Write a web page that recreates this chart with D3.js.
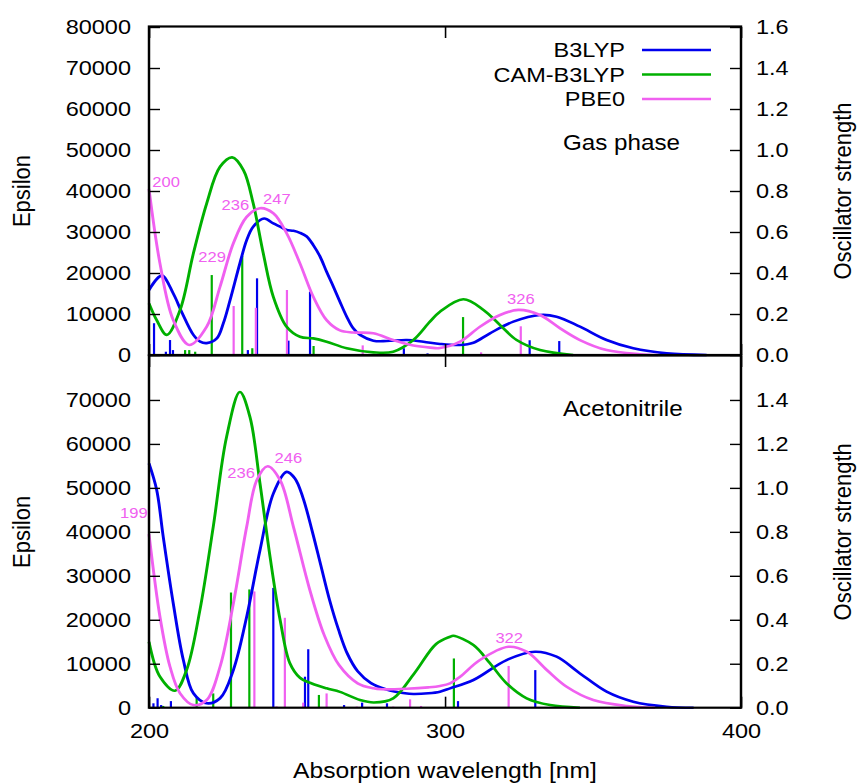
<!DOCTYPE html>
<html>
<head>
<meta charset="utf-8">
<script src="https://cdn.jsdelivr.net/npm/d3@7"></script>
<style>
  body { margin: 0; background: #fff; }
  text { font-family: "Liberation Sans", Arial, sans-serif; }
</style>
</head>
<body>
<div id="chart"></div>
<script>
// ---- data: [wavelength nm, epsilon] ----
var gasB3lyp = [[200,15850],[204.3,19350],[208.2,15000],[211,10560],[215,4900],[217.3,3250],[219.5,2900],
  [222.9,4050],[225.1,7700],[227.4,13400],[230.7,22350],[233,28000],[235.2,31300],[238.9,33300],[242,32100],
  [244.3,31300],[246.5,30500],[248.8,30300],[251,29800],[253.3,28900],[255.5,26800],[257.8,24000],[260,20300],
  [262.3,16650],[264.5,13000],[266.8,9350],[269,6500],[271.3,4900],[275.8,3500],[280.3,3400],[287.1,3650],
  [292.7,3250],[298.3,2700],[305,2440],[309.6,3000],[315.2,5300],[323.1,8130],[332.1,9750],[337.7,9350],
  [345.6,6900],[354.6,3650],[363.6,1630],[374.9,400],[388.4,0]];
var gasCam = [[200,12600],[202.6,8500],[206,4900],[210.5,11000],[215,24800],[219.5,37000],[224,45900],
  [228.1,48200],[231.9,45100],[235.2,37000],[238.6,24800],[242,14200],[246.5,6900],[251,4450],[255.5,4050],
  [260,3250],[266.8,1630],[275.8,650],[282.5,800],[289.3,3650],[294.9,8130],[298.3,10560],[306.2,13580],
  [313,11000],[318.6,7300],[324.2,3650],[332.1,1200],[343.3,0]];
var gasPbe0 = [[200,40500],[203.7,22350],[208.2,8500],[213.6,2440],[219.5,6900],[224,16650],[228.5,27250],
  [233,33700],[237.5,35800],[242,34550],[246.5,29700],[251,22350],[255.5,14200],[260,8500],[264.5,6000],
  [269,5500],[275.8,5300],[282.5,3650],[289.3,2300],[295,1800],[298.3,1700],[305.1,3250],[311.8,6900],
  [318.6,9750],[324.8,11000],[332.1,9750],[338.9,6500],[345.6,3650],[354.6,1200],[365.9,200],[372,0]];

var acnB3lyp = [[200,55550],[202.6,49500],[204.8,38900],[208.2,23700],[211.6,10850],[215,3270],[219.5,1000],
  [224,2140],[228.5,8570],[233,20700],[237.5,35840],[242,48700],[246.5,53640],[249.3,52140],[252,47800],
  [255.2,40000],[258,32500],[261,24500],[264,17800],[267,12300],[270.5,8300],[275,5600],[280,4200],
  [286.5,3270],[289.3,3110],[294.4,3270],[298.3,3640],[301.7,4400],[309.6,6300],[320.8,10840],[330.4,12730],
  [337.7,11600],[345.6,7800],[354.6,3640],[363.6,1360],[374.9,230],[384,0]];
var acnCam = [[200,15000],[203.7,7050],[208.8,3860],[212.7,8570],[217.2,22200],[221.7,41140],[226.2,61600],
  [230.7,71800],[234.1,66140],[237.5,51000],[240.9,34300],[244.3,19930],[247.6,10100],[251,6800],[255,5500],
  [260,4400],[264.5,3600],[271.3,1750],[276,1200],[282.5,2140],[289.6,7800],[297,14500],[301.7,16140],
  [302.8,16360],[309.6,14250],[315.2,10100],[320.8,5550],[327.6,2140],[335.5,600],[345.6,0]];
var acnPbe0 = [[200,39500],[203.7,20700],[207.1,9320],[210.5,3270],[215,600],[219.5,1750],[224,9320],
  [228.5,23700],[233,41140],[236.4,51750],[240.1,54930],[244.3,51750],[248.8,41140],[254.2,27100],
  [259.2,16500],[264.2,9700],[270.5,5550],[275.8,4400],[278.6,4180],[287,4300],[294.4,4630],[298.3,4950],
  [301.7,5550],[305.1,7050],[311.8,10840],[321.4,13860],[327.6,12730],[334.4,8570],[341.1,4770],
  [350.1,1750],[361.4,390],[371,0]];

// ---- sticks: [wavelength nm, oscillator strength] ----
var gasB3lypSticks = [[201.7,0.155],[205.7,0.016],[207.1,0.073],[208.1,0.024],[233.4,0.024],[236.5,0.374],
  [247.1,0.07],[254.4,0.309],[286.1,0.033],[294.1,0.008],[328.6,0.072],[338.6,0.068]];
var gasCamSticks = [[212.2,0.024],[213.6,0.024],[215.6,0.016],[221.2,0.39],[231.5,0.483],[234.9,0.033],
  [255.6,0.044],[306.1,0.185]];
var gasPbe0Sticks = [[228.6,0.239],[236.1,0.23],[246.6,0.317],[272.2,0.047],[312.2,0.013],[325.6,0.14]];

var acnB3lypSticks = [[201.5,0.02],[202.9,0.043],[204.1,0.012],[207.4,0.03],[242,0.545],[252.7,0.141],
  [253.8,0.266],[265.9,0.012],[272,0.023],[280.4,0.02],[304.4,0.03],[330.5,0.171]];
var acnCamSticks = [[204.8,0.008],[216.1,0.047],[221.7,0.065],[227.7,0.524],[233.9,0.538],[257.4,0.058],
  [303,0.224]];
var acnPbe0Sticks = [[235.6,0.529],[243.1,0.006],[245.9,0.409],[252.1,0.023],[260,0.065],[270.2,0.005],
  [282.5,0.005],[288.2,0.038],[291.9,0.008],[321.5,0.19]];

// ---- peak labels: [text, wavelength, epsilon] ----
var gasPeakLabels = [["200",205.8,42270],["229",221.3,23830],["236",229.2,36590],["247",243.2,37970],["326",325.6,13580]];
var acnPeakLabels = [["199",194.9,44250],["236",231.1,53400],["246",247.1,56900],["322",321.7,16000]];

var methods = ["B3LYP", "CAM-B3LYP", "PBE0"];
var xTicks = [200, 300, 400];
var gasEpsTicks = [0,10000,20000,30000,40000,50000,60000,70000,80000];
var gasOscTicks = [0,0.2,0.4,0.6,0.8,1.0,1.2,1.4,1.6];
var acnEpsTicks = [0,10000,20000,30000,40000,50000,60000,70000];
var acnOscTicks = [0,0.2,0.4,0.6,0.8,1.0,1.2,1.4];

var colors = ["#0000ee", "#00b000", "#f060f0"];

// ---- layout ----
var svgWidth = 859, svgHeight = 783;
// the reference glyphs are stretched sideways, so draw in a narrower box and stretch it
var stretch = 1.12;
function px(v) { return v / stretch; }

var svg = d3.select("#chart").append("svg")
  .attr("width", svgWidth)
  .attr("height", svgHeight)
  .attr("viewBox", `0 0 ${svgWidth / stretch} ${svgHeight}`)
  .attr("preserveAspectRatio", "none");

var left = px(149), right = px(741);
var xScale = d3.scaleLinear().domain([200, 400]).range([left, right]);
var tickLen = 11;

var panels = [
  { title: "Gas phase", top: 27, bottom: 355, titleY: 142,
    curves: [gasB3lyp, gasCam, gasPbe0], sticks: [gasB3lypSticks, gasCamSticks, gasPbe0Sticks],
    labels: gasPeakLabels, epsTicks: gasEpsTicks, oscTicks: gasOscTicks, legend: true },
  { title: "Acetonitrile", top: 356, bottom: 707.7, titleY: 408,
    curves: [acnB3lyp, acnCam, acnPbe0], sticks: [acnB3lypSticks, acnCamSticks, acnPbe0Sticks],
    labels: acnPeakLabels, epsTicks: acnEpsTicks, oscTicks: acnOscTicks, legend: false }
];

panels.forEach(function(p, i) {
  var yEps = d3.scaleLinear().domain([0, 80000]).range([p.bottom, p.top]);
  var yOsc = d3.scaleLinear().domain([0, 1.6]).range([p.bottom, p.top]);
  var g = svg.append("g");

  // sticks
  p.sticks.forEach(function(list, m) {
    g.selectAll(".stick" + m).data(list).enter()
      .append("line")
      .attr("x1", d => xScale(d[0])).attr("x2", d => xScale(d[0]))
      .attr("y1", yOsc(0)).attr("y2", d => yOsc(d[1]))
      .attr("stroke", colors[m])
      .attr("stroke-width", px(2.2));
  });

  // broadened spectra
  var line = d3.line()
    .x(d => xScale(d[0]))
    .y(d => yEps(Math.max(0, d[1])))
    .curve(d3.curveCatmullRom.alpha(0.5));
  p.curves.forEach(function(data, m) {
    g.append("path")
      .datum(data)
      .attr("d", line)
      .attr("fill", "none")
      .attr("stroke", colors[m])
      .attr("stroke-width", 2.6);
  });

  // peak labels
  g.selectAll(".peak").data(p.labels).enter()
    .append("text")
    .attr("x", d => xScale(d[1]))
    .attr("y", d => yEps(d[2]))
    .attr("text-anchor", "middle")
    .attr("dominant-baseline", "central")
    .attr("font-size", "14.8px")
    .attr("fill", colors[2])
    .text(d => d[0]);

  // axes
  var leftAxis = d3.axisLeft(yEps).tickValues(p.epsTicks)
    .tickSizeInner(-px(tickLen)).tickSizeOuter(0).tickPadding(px(18))
    .tickFormat(d3.format("d"));
  var rightAxis = d3.axisRight(yOsc).tickValues(p.oscTicks)
    .tickSizeInner(-px(tickLen)).tickSizeOuter(0).tickPadding(px(15))
    .tickFormat(d3.format(".1f"));
  var topAxis = d3.axisTop(xScale).tickValues(xTicks)
    .tickSizeInner(-tickLen).tickSizeOuter(0).tickFormat("");
  var bottomAxis = d3.axisBottom(xScale).tickValues(xTicks)
    .tickSizeInner(-tickLen).tickSizeOuter(0).tickPadding(15);
  if (i == 0) bottomAxis.tickFormat("");

  var axes = [
    g.append("g").attr("transform", `translate(${left},0)`).call(leftAxis),
    g.append("g").attr("transform", `translate(${right},0)`).call(rightAxis),
    g.append("g").attr("transform", `translate(0,${p.top})`).call(topAxis),
    g.append("g").attr("transform", `translate(0,${p.bottom})`).call(bottomAxis)
  ];
  axes.forEach(function(a) {
    a.select(".domain").remove();
    a.selectAll("line").attr("stroke", "#000").attr("stroke-width", 1.4);
    a.selectAll("text").attr("font-size", "21px").attr("fill", "#000")
      .style("font-family", '"Liberation Sans", Arial, sans-serif');
  });

  // frame
  g.append("rect")
    .attr("x", left).attr("y", p.top - 0.5)
    .attr("width", right - left).attr("height", p.bottom - p.top + 0.5)
    .attr("fill", "none").attr("stroke", "#000").attr("stroke-width", 2.2);

  // panel title
  g.append("text")
    .attr("x", px(563)).attr("y", p.titleY)
    .attr("dominant-baseline", "central")
    .attr("font-size", "21.6px")
    .text(p.title);

  // axis titles
  var midY = (p.top + p.bottom) / 2;
  g.append("text")
    .attr("transform", `translate(${px(22)},${midY}) rotate(-90)`)
    .attr("text-anchor", "middle").attr("dominant-baseline", "central")
    .attr("font-size", "22px")
    .text("Epsilon");
  g.append("text")
    .attr("transform", `translate(${px(843)},${midY}) rotate(-90)`)
    .attr("text-anchor", "middle").attr("dominant-baseline", "central")
    .attr("font-size", "22px")
    .text("Oscillator strength");

  // legend
  if (p.legend) {
    methods.forEach(function(name, m) {
      var ly = 50 + m * 24.5;
      g.append("text")
        .attr("x", px(625)).attr("y", ly)
        .attr("text-anchor", "end").attr("dominant-baseline", "central")
        .attr("font-size", "21px")
        .text(name);
      g.append("line")
        .attr("x1", px(642)).attr("x2", px(711))
        .attr("y1", ly).attr("y2", ly)
        .attr("stroke", colors[m]).attr("stroke-width", 2.6);
    });
  }
});

svg.append("text")
  .attr("x", px(445)).attr("y", 770)
  .attr("text-anchor", "middle").attr("dominant-baseline", "central")
  .attr("font-size", "22px")
  .text("Absorption wavelength [nm]");
</script>
</body>
</html>
